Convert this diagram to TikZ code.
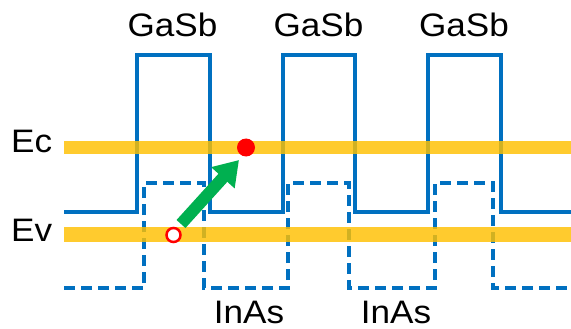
\documentclass[tikz,border=0pt]{standalone}
\usepackage{fontspec}
\setmainfont{Liberation Sans}
\usetikzlibrary{arrows.meta}
\definecolor{bandblue}{RGB}{0,112,192}
\definecolor{bandgold}{RGB}{255,192,0}
\definecolor{arrowgreen}{RGB}{0,176,80}
\definecolor{holered}{RGB}{255,0,0}
\tikzset{
  edge/.style={bandblue, line width=4pt, line join=miter},
  vband/.style={edge, dash pattern=on 11pt off 6pt},
  level/.style={fill=bandgold, opacity=0.82},
  lbl/.style={font=\fontsize{32.5}{34}\selectfont, inner sep=0pt, xscale=1.08},
}
\begin{document}
\begin{tikzpicture}[x=1pt,y=-1pt]
\useasboundingbox (0,0) rectangle (571,329);
% conduction band edge (solid)
\draw[edge] (64,212) -- (137,212) -- (137,55) -- (210,55) -- (210,212)
  -- (283,212) -- (283,55) -- (355,55) -- (355,212)
  -- (428,212) -- (428,55) -- (501,55) -- (501,212) -- (573,212);
% valence band edge (dashed)
\draw[vband] (64,288) -- (144,288) -- (144,183) -- (204,183) -- (204,288)
  -- (288,288) -- (288,183) -- (349,183) -- (349,288)
  -- (435,288) -- (435,183) -- (493,183) -- (493,288) -- (573,288);
% energy levels
\fill[level] (64,141) rectangle (571,154);
\fill[level] (64,227) rectangle (571,242);
% labels
\node[lbl, anchor=base] (g1) at (172.5,37) {GaSb};
\node[lbl, anchor=base] (g2) at (318.5,37) {GaSb};
\node[lbl, anchor=base] (g3) at (464,37) {GaSb};
\node[lbl, anchor=base] (i1) at (249,323.5) {InAs};
\node[lbl, anchor=base] (i2) at (396,323.5) {InAs};
\node[lbl, anchor=base west] (ec) at (11,153) {Ec};
\node[lbl, anchor=base west] (ev) at (11,241.5) {Ev};
% hole and electron
\node[circle, draw=holered, line width=2.5pt, fill=white, minimum size=14pt, inner sep=0pt] (h) at (173.5,235) {};
\node[circle, fill=holered, minimum size=18pt, inner sep=0pt] (e) at (246,147.5) {};
% excitation arrow
\coordinate (t0) at (181,224);
\coordinate (t1) at (239,160);
\draw[arrowgreen, line width=12pt, -{Triangle[width=30pt,length=24pt]}] (t0) -- (t1);
\end{tikzpicture}
\end{document}
